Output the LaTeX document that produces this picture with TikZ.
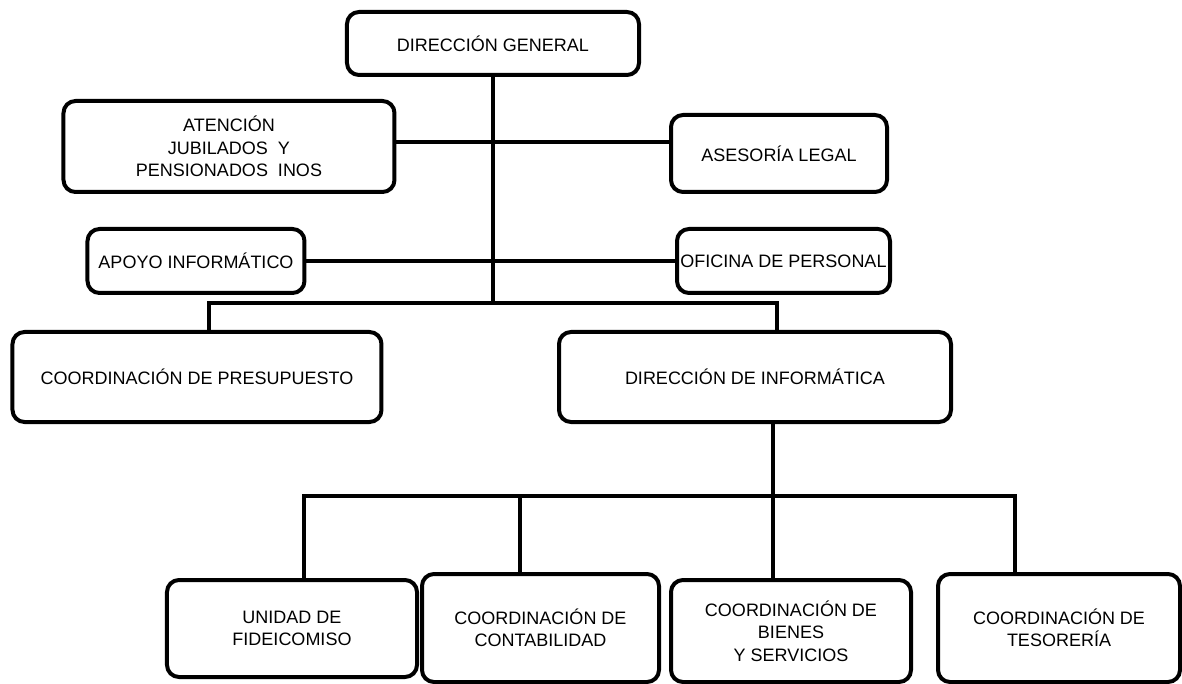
\documentclass[tikz,border=0pt]{standalone}
\usepackage{fontspec}
\setmainfont{Liberation Sans}
\usepackage{tikz}
\tikzstyle{unit} = [rectangle, rounded corners=12pt, draw=black, line width=4pt, text centered, align=center, inner sep=0pt, font=\fontsize{18}{22.5}\selectfont]
\tikzstyle{link} = [line width=3.5pt]

\begin{document}
\begin{tikzpicture}[node distance=112pt]
  \useasboundingbox (-493pt,43.5pt) rectangle (689pt,-640.5pt);
  \node (dg) [unit, minimum width=292pt, minimum height=63pt] {DIRECCIÓN GENERAL};
  \node (at) [unit, below of=dg, xshift=-264pt, yshift=9pt, minimum width=331pt, minimum height=91pt] {ATENCIÓN\\JUBILADOS\ \ Y\\PENSIONADOS\ \ INOS};
  \node (al) [unit, below of=dg, xshift=286pt, yshift=2pt, minimum width=216pt, minimum height=77pt] {ASESORÍA LEGAL};
  \node (ai) [unit, below of=at, xshift=-33pt, yshift=-2.5pt, minimum width=217pt, minimum height=64pt] {APOYO INFORMÁTICO};
  \node (op) [unit, below of=al, xshift=4.5pt, yshift=4.5pt, minimum width=213pt, minimum height=64pt] {OFICINA DE PERSONAL};
  \node (cp) [unit, below of=ai, xshift=1pt, yshift=-4pt, minimum width=369pt, minimum height=90pt] {COORDINACIÓN DE PRESUPUESTO};
  \node (di) [unit, below of=op, xshift=-28.5pt, yshift=-4pt, minimum width=392pt, minimum height=90pt] {DIRECCIÓN DE INFORMÁTICA};
  %\node (uf) [unit, below of=di] {};
  \node (uf) [unit, below of=cp, xshift=95pt, yshift=-139.5pt, minimum width=250pt, minimum height=97pt] {UNIDAD DE\\FIDEICOMISO};
  \node (cc) [unit, node distance=248.5pt, right of=uf, yshift=0.5pt, minimum width=237pt, minimum height=108pt] {COORDINACIÓN DE\\CONTABILIDAD};
  \node (cb) [unit, node distance=250.5pt, right of=cc, yshift=-3pt, minimum width=240pt, minimum height=102pt] {COORDINACIÓN DE\\BIENES\\Y SERVICIOS};
  \node (ct) [unit, node distance=268pt, right of=cb, yshift=3pt, minimum width=242pt, minimum height=108pt] {COORDINACIÓN DE\\TESORERÍA};

  \node (bus1) [coordinate, node distance=259.5pt, below of=dg] {};
  \node (busL) [coordinate, node distance=284pt, left of=bus1] {};
  \node (busR) [coordinate, node distance=284pt, right of=bus1] {};
  \node (bus2) [coordinate, node distance=119pt, below of=di, xshift=18pt] {};
  \node (busA) [coordinate, node distance=469pt, left of=bus2] {};
  \node (busB) [coordinate, node distance=253pt, left of=bus2] {};
  \node (busD) [coordinate, node distance=242pt, right of=bus2] {};

  \draw [link] (dg) -- (bus1);
  \draw [link] ([yshift=4.5pt]at.east) -- ([yshift=4.5pt]at.east -| al.west);
  \draw [link] (ai) -- (op);
  \draw [link] (cp.north -| busL) -- (busL) -- (busR) -- (di.north -| busR);
  \draw [link] (di.south -| bus2) -- (cb.north -| bus2);
  \draw [link] (uf.north -| busA) -- (busA) -- (busD) -- (ct.north -| busD);
  \draw [link] (busB) -- (cc.north -| busB);
\end{tikzpicture}
\end{document}
